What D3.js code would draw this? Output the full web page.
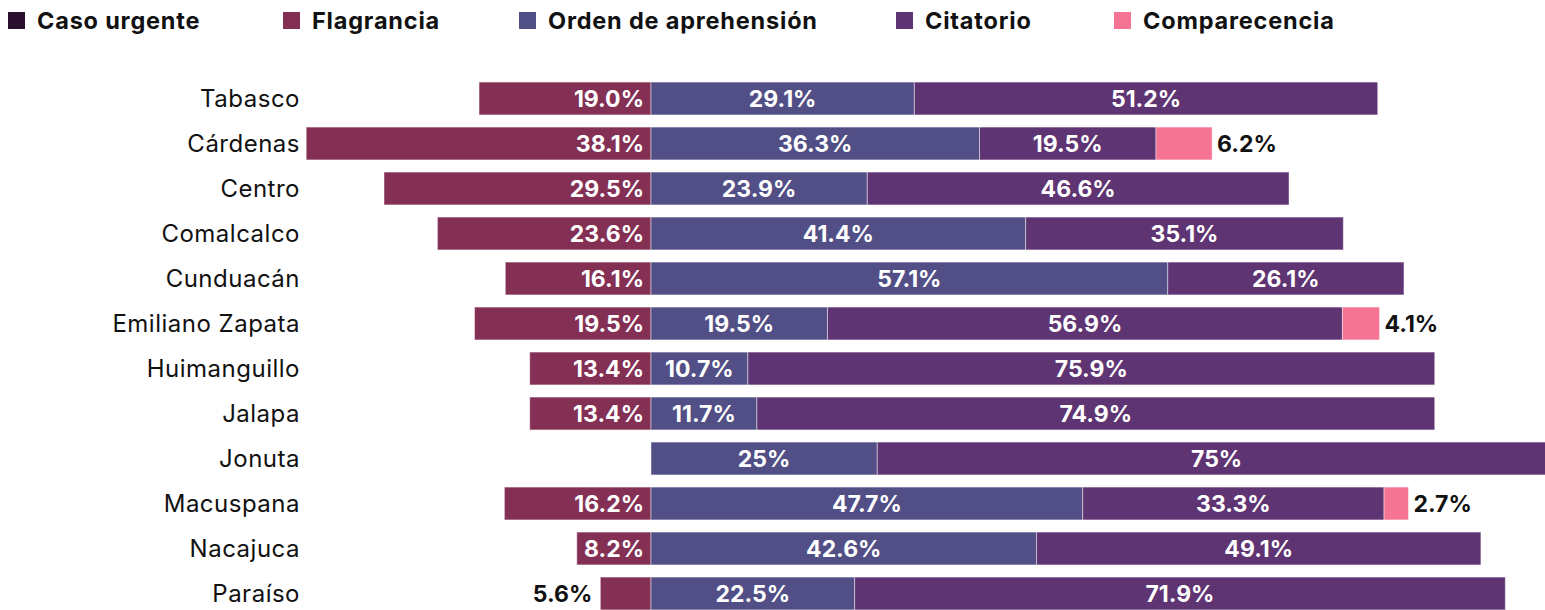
<!DOCTYPE html>
<html>
<head>
<meta charset="utf-8">
<script src="https://cdn.jsdelivr.net/npm/d3@7"></script>
<style>
  body { margin: 0; background: #fff; }
  svg { font-family: "Inter", "Noto Sans", sans-serif; }
</style>
</head>
<body>
<figure id="chart" style="margin:0"></figure>
<script>
// municipios
const categories = ["Tabasco", "Cárdenas", "Centro", "Comalcalco", "Cunduacán", "Emiliano Zapata",
  "Huimanguillo", "Jalapa", "Jonuta", "Macuspana", "Nacajuca", "Paraíso"];

// values as printed in the chart (strings keep the label format)
const casoUrgente   = ["0", "0", "0", "0", "0", "0", "0", "0", "0", "0", "0", "0"];
const flagrancia    = ["19.0", "38.1", "29.5", "23.6", "16.1", "19.5", "13.4", "13.4", "0", "16.2", "8.2", "5.6"];
const orden         = ["29.1", "36.3", "23.9", "41.4", "57.1", "19.5", "10.7", "11.7", "25", "47.7", "42.6", "22.5"];
const citatorio     = ["51.2", "19.5", "46.6", "35.1", "26.1", "56.9", "75.9", "74.9", "75", "33.3", "49.1", "71.9"];
const comparecencia = ["0", "6.2", "0", "0", "0", "4.1", "0", "0", "0", "2.7", "0", "0"];

const seriesNames = ["Caso urgente", "Flagrancia", "Orden de aprehensión", "Citatorio", "Comparecencia"];
const seriesColors = ["#2a0f2e", "#843055", "#514f86", "#5f3473", "#f57393"];

const width = 1545, height = 610;
const center = 651;

const svg = d3.select("figure#chart")
  .append("svg")
  .attr("width", width)
  .attr("height", height);

const x = d3.scaleLinear()
  .domain([0, 100])
  .range([center, center + 905]);

const y = d3.scaleBand()
  .domain(categories)
  .range([76, 616])
  .paddingInner(0.27)
  .paddingOuter(0.135);

// legend
const legend = svg.append("g");
const legendX = [8, 283, 519, 896, 1114];
seriesNames.forEach((name, i) => {
  legend.append("rect")
    .attr("x", legendX[i]).attr("y", 12)
    .attr("width", 17).attr("height", 17)
    .attr("fill", seriesColors[i]);
  legend.append("text")
    .attr("x", legendX[i] + 29).attr("y", 29)
    .style("font-size", "23.5px")
    .style("font-weight", "bold")
    .style("letter-spacing", "0.8px")
    .attr("fill", "#111")
    .text(name);
});

// category labels
svg.append("g")
  .selectAll("text")
  .data(categories)
  .enter()
  .append("text")
  .attr("x", 300)
  .attr("y", d => y(d) + y.bandwidth() / 2)
  .attr("dy", "0.36em")
  .attr("text-anchor", "end")
  .style("font-size", "24px")
  .style("letter-spacing", "0.5px")
  .attr("fill", "#111")
  .text(d => d);

// build segments: flagrancia (and caso urgente) go left, the rest to the right
const rows = categories.map((c, i) => {
  const segs = [];
  const f = +flagrancia[i], cu = +casoUrgente[i];
  segs.push({cat: c, s: 1, x0: -f, x1: 0, label: flagrancia[i]});
  segs.push({cat: c, s: 0, x0: -f - cu, x1: -f, label: casoUrgente[i]});
  let acc = 0;
  [[2, orden], [3, citatorio], [4, comparecencia]].forEach(([s, arr]) => {
    const v = +arr[i];
    segs.push({cat: c, s: s, x0: acc, x1: acc + v, label: arr[i]});
    acc += v;
  });
  return segs;
});
const segments = rows.flat().filter(d => d.x1 - d.x0 > 0);

svg.append("g")
  .selectAll("rect")
  .data(segments)
  .enter()
  .append("rect")
  .attr("x", d => x(d.x0))
  .attr("y", d => y(d.cat))
  .attr("width", d => x(d.x1) - x(d.x0))
  .attr("height", y.bandwidth())
  .attr("fill", d => seriesColors[d.s])
  .attr("stroke", "#fff")
  .attr("stroke-opacity", 0.45)
  .attr("stroke-width", 1);

// value labels
const labels = svg.append("g")
  .selectAll("text")
  .data(segments.filter(d => d.s > 0))
  .enter()
  .append("text")
  .style("font-size", "23px")
  .style("font-weight", "bold")
  .attr("y", d => y(d.cat) + y.bandwidth() / 2)
  .attr("dy", "0.36em")
  .text(d => d.label + "%");

labels.each(function(d) {
  const t = d3.select(this);
  const w = x(d.x1) - x(d.x0);
  if (d.s === 1) {
    if (w > 60) {
      t.attr("x", x(0) - 7).attr("text-anchor", "end").attr("fill", "#fff");
    } else {
      t.attr("x", x(d.x0) - 8).attr("text-anchor", "end").attr("fill", "#111");
    }
  } else if (d.s === 4) {
    t.attr("x", x(d.x1) + 5).attr("text-anchor", "start").attr("fill", "#111");
  } else {
    t.attr("x", (x(d.x0) + x(d.x1)) / 2).attr("text-anchor", "middle").attr("fill", "#fff");
  }
});
</script>
</body>
</html>
